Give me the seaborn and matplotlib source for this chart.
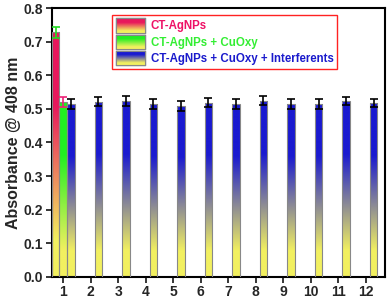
import numpy as np
import pandas as pd
import matplotlib
matplotlib.use("Agg")
import matplotlib.pyplot as plt
import seaborn as sns
from matplotlib.colors import LinearSegmentedColormap
from matplotlib.patches import Rectangle

# data
samples = [str(i) for i in range(1, 13)]
groups = ["CT-AgNPs", "CT-AgNPs + CuOxy", "CT-AgNPs + CuOxy + Interferents"]
agnps_val = [0.728]
agnps_err = [0.016]
cuoxy_val = [0.521]
cuoxy_err = [0.015]
interf_val = [0.515, 0.522, 0.524, 0.515, 0.510, 0.519, 0.515, 0.525, 0.515, 0.515, 0.524, 0.518]
interf_err = [0.016, 0.014, 0.015, 0.016, 0.015, 0.014, 0.015, 0.014, 0.014, 0.015, 0.013, 0.013]

top_colors = ["#e8185c", "#22ee22", "#1a1ad0"]
text_colors = ["#ee1166", "#33ee33", "#1a1acc"]
err_colors = ["#22dd22", "#ee2277", "black"]
yellow = "#f2f060"

rows = [(samples[0], groups[0], agnps_val[0]), (samples[0], groups[1], cuoxy_val[0])]
rows += [(s, groups[2], v) for s, v in zip(samples, interf_val)]
df = pd.DataFrame(rows, columns=["sample", "group", "value"])
errs = {0: agnps_err, 1: cuoxy_err, 2: interf_err}

sns.set_style("white")
plt.rcParams["font.family"] = ["Liberation Sans", "DejaVu Sans"]
plt.rcParams["font.weight"] = "bold"

fig = plt.figure(figsize=(3.87, 3.0), dpi=100)
ax = fig.add_axes([0.1336, 0.0777, 0.8614, 0.8946])

sns.barplot(data=df, x="sample", y="value", hue="group", order=samples,
            hue_order=groups, width=0.84, legend=False, ax=ax,
            edgecolor="#888888", linewidth=0.8, errorbar=None)

cmaps = [LinearSegmentedColormap.from_list(
    f"g{i}", [(0, yellow), (0.15, yellow), (0.7, c), (1, c)]) for i, c in enumerate(top_colors)]
grad = np.linspace(0, 1, 256).reshape(-1, 1)

for p in list(ax.patches):
    h = p.get_height()
    if not np.isfinite(h) or h <= 0:
        continue
    x0 = p.get_x()
    w = p.get_width()
    cx = x0 + w / 2
    idx = int(round(cx))
    off = cx - idx
    g = 0 if off < -0.1 else (1 if off < 0.1 else 2)
    p.set_facecolor("none")
    p.set_zorder(3)
    im = ax.imshow(grad, cmap=cmaps[g], origin="lower", aspect="auto",
                   extent=(x0, x0 + w, 0, h), zorder=2)
    im.set_clip_path(p)
    e = errs[g][idx] if g == 2 else errs[g][0]
    ax.errorbar(cx, h, yerr=e, color=err_colors[g], capsize=3, capthick=1.2,
                elinewidth=1.2, zorder=4)

ax.set_xlim(-0.42, 11.7)
ax.set_ylim(0, 0.8)
ax.set_yticks(np.arange(0, 0.81, 0.1))
ax.set_yticklabels([f"{v:.1f}" for v in np.arange(0, 0.81, 0.1)])
ax.set_xlabel("")
ax.set_ylabel("Absorbance @ 408 nm", fontsize=11.5, fontweight="bold", labelpad=2)
ax.tick_params(axis="both", direction="out", length=4, width=1.3, labelsize=10,
               bottom=True, left=True, pad=2)
for lab in ax.get_xticklabels() + ax.get_yticklabels():
    lab.set_fontweight("bold")
for s in ax.spines.values():
    s.set_linewidth(1.5)
    s.set_color("black")

handles = [Rectangle((0, 0), 1, 1, facecolor=c, edgecolor="#888888") for c in top_colors]
leg = ax.legend(handles, groups, loc="upper left", bbox_to_anchor=(0.181, 0.975),
                borderaxespad=0, fancybox=False, frameon=True,
                handlelength=2.6, handleheight=1.5, handletextpad=0.45,
                labelspacing=0.2, borderpad=0.3, prop={"weight": "bold", "size": 8.3})
leg.get_frame().set_edgecolor("#ff2222")
leg.get_frame().set_linewidth(1.0)
leg.get_frame().set_alpha(1)
for t, c in zip(leg.get_texts(), text_colors):
    t.set_color(c)

# gradient fill for legend handles
fig.canvas.draw()
inv = fig.transFigure.inverted()
for hp, cm in zip(leg.get_patches(), cmaps):
    bb = hp.get_window_extent().transformed(inv)
    hax = fig.add_axes([bb.x0, bb.y0, bb.width, bb.height])
    hax.imshow(grad, cmap=cm, origin="lower", aspect="auto")
    hax.set_xticks([])
    hax.set_yticks([])
    for s in hax.spines.values():
        s.set_color("#888888")
        s.set_linewidth(0.8)

fig.savefig("out.png", dpi=100)
